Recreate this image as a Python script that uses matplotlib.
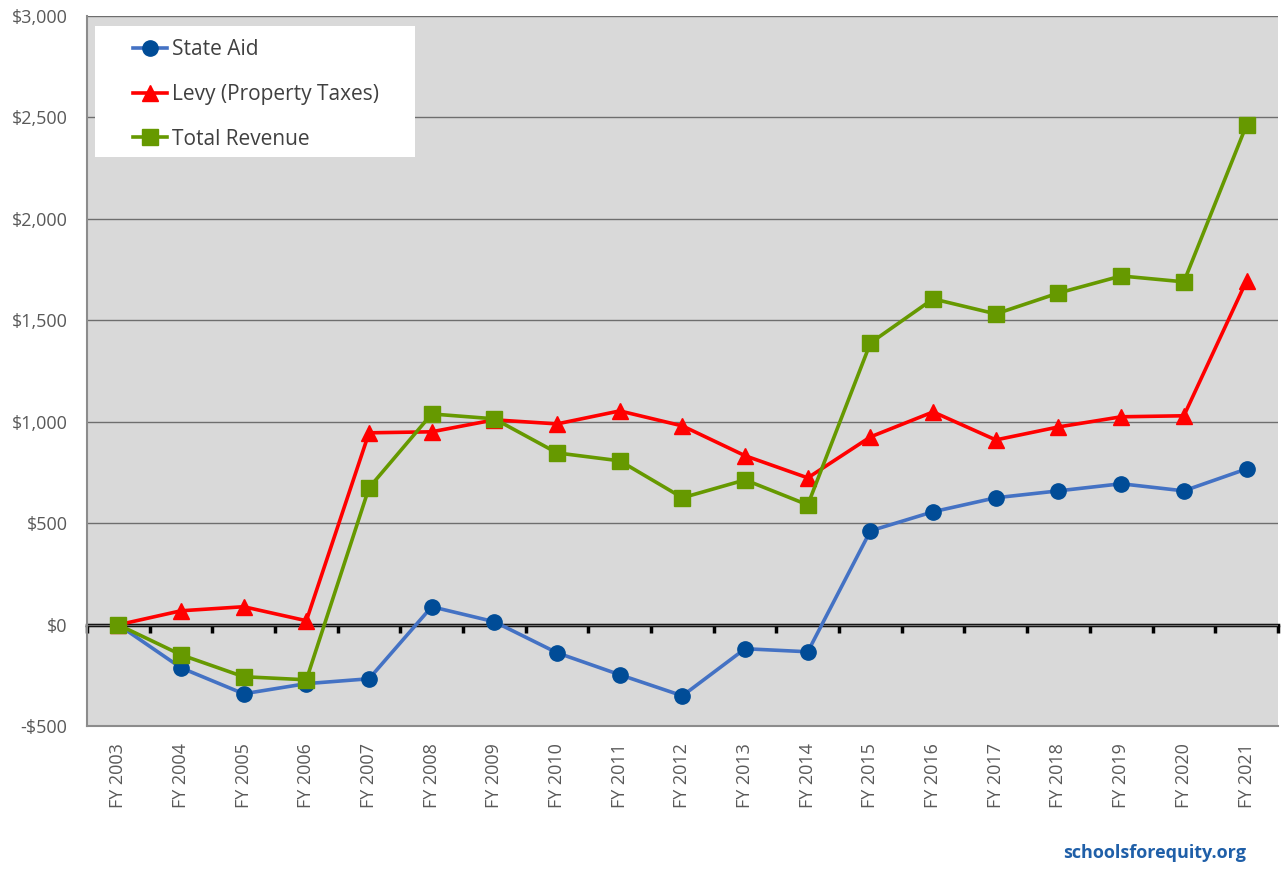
import matplotlib.pyplot as plt
from matplotlib.patches import Rectangle
import numpy as np

years = ["FY 2003", "FY 2004", "FY 2005", "FY 2006", "FY 2007", "FY 2008", "FY 2009",
         "FY 2010", "FY 2011", "FY 2012", "FY 2013", "FY 2014", "FY 2015", "FY 2016",
         "FY 2017", "FY 2018", "FY 2019", "FY 2020", "FY 2021"]
state_aid = [0, -212, -340, -290, -266, 89, 15, -138, -246, -350, -118, -133,
             463, 557, 626, 660, 695, 660, 768]
levy = [0, 69, 89, 20, 946, 951, 1010, 990, 1054, 980, 833, 724,
        926, 1049, 911, 975, 1025, 1030, 1695]
total_rev = [0, -148, -256, -271, 675, 1039, 1015, 847, 808, 626, 714, 591,
             1389, 1606, 1532, 1635, 1719, 1690, 2463]

plt.rcParams['font.family'] = ['Open Sans', 'DejaVu Sans']

fig = plt.figure(figsize=(12.83, 8.75), dpi=100)
ax = fig.add_axes([0.0678, 0.170, 0.9282, 0.8117])
ax.set_facecolor('#d9d9d9')

x = np.arange(len(years))
ax.plot(x, state_aid, color='#4472c4', lw=2.6, marker='o', ms=11,
        mfc='#004c97', mec='#004c97', label='State Aid', zorder=3)
ax.plot(x, levy, color='#ff0000', lw=2.6, marker='^', ms=12,
        mfc='#ff0000', mec='#ff0000', label='Levy (Property Taxes)', zorder=3)
ax.plot(x, total_rev, color='#669900', lw=2.6, marker='s', ms=11,
        mfc='#669900', mec='#669900', label='Total Revenue', zorder=3)

ax.set_xlim(-0.5, len(years) - 0.5)
ax.set_ylim(-500, 3000)
ax.set_yticks(np.arange(-500, 3001, 500))
ax.set_yticklabels(['-$500' if v < 0 else '${:,}'.format(v) for v in range(-500, 3001, 500)])
ax.set_xticks(x)
ax.set_xticklabels(years, rotation=90)
ax.tick_params(axis='both', length=0, labelsize=13, labelcolor='#595959')
ax.tick_params(axis='x', pad=12)
ax.tick_params(axis='y', pad=14)
ax.grid(axis='y', color='#6e6e6e', lw=1)
ax.set_axisbelow(True)

for s in ['top', 'right']:
    ax.spines[s].set_visible(False)
for s in ['left', 'bottom']:
    ax.spines[s].set_color('#8c8c8c')
    ax.spines[s].set_linewidth(1.5)

# zero axis with tick marks between categories
zero = ax.secondary_xaxis(0, transform=ax.transData)
zero.spines['bottom'].set_color('black')
zero.spines['bottom'].set_linewidth(2.5)
zero.set_xticks(np.arange(-0.5, len(years), 1.0))
zero.tick_params(axis='x', direction='out', length=6, width=2.5, color='black',
                 labelbottom=False)

# white legend box
box = Rectangle((0.0067, 0.8015), 0.2687, 0.1845, transform=ax.transAxes,
                facecolor='white', edgecolor='none', zorder=4)
ax.add_patch(box)
leg = ax.legend(loc='upper left', bbox_to_anchor=(0.0386, 0.967), fontsize=15,
                labelspacing=1.13, handlelength=1.63, handletextpad=0.25,
                borderpad=0, borderaxespad=0, frameon=False, labelcolor='#404040')
leg.set_zorder(5)

fig.text(0.9, 0.025, 'schoolsforequity.org', color='#1f5fa8', fontsize=13,
         fontweight='bold', ha='center', va='center')

fig.savefig('out.png', dpi=100)
